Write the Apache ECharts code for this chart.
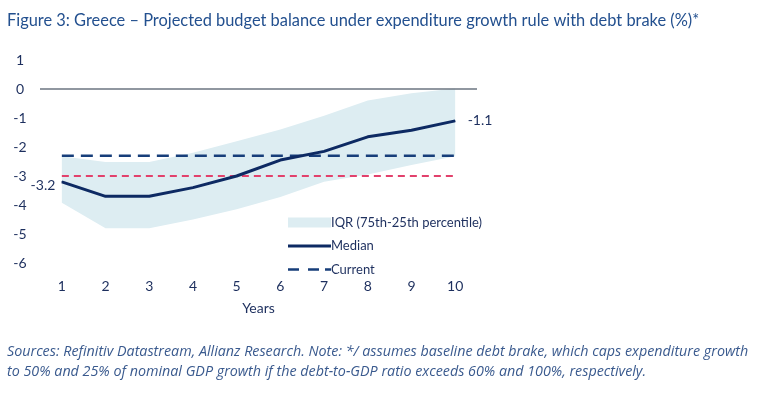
<!DOCTYPE html>
<html>
<head>
<meta charset="utf-8">
<script src="https://cdn.jsdelivr.net/npm/echarts@6/dist/echarts.min.js"></script>
<style>
html,body{margin:0;padding:0;background:#fff;}
#c{width:762px;height:395px;}
</style>
</head>
<body>
<div id="c"></div>
<script>
var years = ['1','2','3','4','5','6','7','8','9','10'];
var median = [-3.2, -3.7, -3.7, -3.4, -3.0, -2.45, -2.15, -1.65, -1.42, -1.1];
var iqrLower = [-3.92, -4.8, -4.8, -4.5, -4.15, -3.72, -3.2, -2.95, -2.62, -2.32];
var iqrUpper = [-2.32, -2.52, -2.52, -2.2, -1.8, -1.4, -0.92, -0.4, -0.15, 0.02];
var current = [-2.3, -2.3, -2.3, -2.3, -2.3, -2.3, -2.3, -2.3, -2.3, -2.3];
var debtBrake = [-3.0, -3.0, -3.0, -3.0, -3.0, -3.0, -3.0, -3.0, -3.0, -3.0];
var yTicks = [1, 0, -1, -2, -3, -4, -5, -6];

var iqrSpan = iqrUpper.map(function(u, i){ return +(u - iqrLower[i]).toFixed(3); });
var font = 'Lato';
var navy = '#0d2a63';
var txt = '#1d2f5e';

var medianData = median.map(function(v, i){
  if (i === 0) return {value: v, symbol: 'circle', symbolSize: 1, label: {show: true, position: 'left', distance: 6, offset: [0, 4]}};
  if (i === median.length - 1) return {value: v, symbol: 'circle', symbolSize: 1, label: {show: true, position: 'right', distance: 12}};
  return {value: v, symbol: 'none'};
});

var bb = ' M0,0H0.01V0.01H0Z M42.99,9.99H43V10H42.99Z';
var chart = echarts.init(document.getElementById('c'), null, {renderer:'canvas'});
chart.setOption({
  animation: false,
  backgroundColor: '#fff',
  title: [{
    text: 'Figure 3: Greece \u2013 Projected budget balance under expenditure growth rule with debt brake (%)*',
    left: 2, top: 8,
    textStyle: {fontFamily: font, fontSize: 16.4, fontWeight: 'normal', color: '#23508f'}
  },{
    text: 'Sources: Refinitiv Datastream, Allianz Research. Note: */ assumes baseline debt brake, which caps expenditure growth\nto 50% and 25% of nominal GDP growth if the debt-to-GDP ratio exceeds 60% and 100%, respectively.',
    left: 2, top: 337,
    textStyle: {fontFamily: 'Open Sans', fontSize: 14.3, fontStyle: 'italic', fontWeight: 'normal', color: '#3a5a8e', lineHeight: 20}
  }],
  legend: {
    orient: 'vertical',
    left: 283, top: 211,
    itemWidth: 43, itemHeight: 10, itemGap: 10.5,
    data: [
      {name: 'IQR (75th-25th percentile)', icon: 'rect'},
      {name: 'Median', icon: 'path://M0,3.5H43V6.5H0Z' + bb},
      {name: 'Current', icon: 'path://M0,3.7H11V6.3H0Z M20,3.7H31V6.3H20Z M37,3.7H43V6.3H37Z' + bb}
    ],
    textStyle: {fontFamily: font, fontSize: 13, color: txt, padding: [0,0,0,-5]}
  },
  grid: {left: 40, right: 285, top: 60, bottom: 132, containLabel: false},
  xAxis: {
    type: 'category', data: years, boundaryGap: true,
    name: 'Years', nameLocation: 'middle', nameGap: 38,
    nameTextStyle: {fontFamily: font, fontSize: 14, color: txt},
    axisLine: {show: false}, axisTick: {show: false},
    axisLabel: {fontFamily: font, fontSize: 14, color: txt, margin: 16}
  },
  yAxis: {
    type: 'value', min: -6, max: 1, interval: 1,
    axisLine: {show: false}, axisTick: {show: false}, splitLine: {show: false},
    axisLabel: {fontFamily: font, fontSize: 14, color: txt, margin: 20, align: 'center', formatter: function(v){ return yTicks.indexOf(v) >= 0 ? String(v) : ''; }}
  },
  series: [
    {
      name: 'base', type: 'line', data: iqrLower, stack: 'iqr', stackStrategy: 'all',
      symbol: 'none', lineStyle: {opacity: 0}, silent: true, z: 1,
      markLine: {
        silent: true, symbol: 'none', label: {show: false},
        lineStyle: {color: '#6b7480', width: 1.5, type: 'solid'},
        data: [{yAxis: 0}]
      }
    },
    {
      name: 'IQR (75th-25th percentile)', type: 'line', data: iqrSpan, stack: 'iqr', stackStrategy: 'all',
      symbol: 'none', lineStyle: {opacity: 0}, areaStyle: {color: '#ddedf2', opacity: 1},
      itemStyle: {color: '#ddedf2'}, z: 1
    },
    {
      name: 'Debt brake', type: 'line', data: debtBrake, symbol: 'none', z: 3,
      lineStyle: {color: '#e2416c', width: 2, type: [7, 5]}
    },
    {
      name: 'Current', type: 'line', data: current, symbol: 'none', z: 4,
      itemStyle: {color: '#173e7a'},
      lineStyle: {color: '#173e7a', width: 2.5, type: [12, 7]}
    },
    {
      name: 'Median', type: 'line', data: medianData, symbol: 'circle', symbolSize: 1, showSymbol: true, z: 5,
      itemStyle: {color: navy},
      lineStyle: {color: navy, width: 3},
      label: {fontFamily: font, fontSize: 14, color: txt}
    }
  ]
});
</script>
</body>
</html>
